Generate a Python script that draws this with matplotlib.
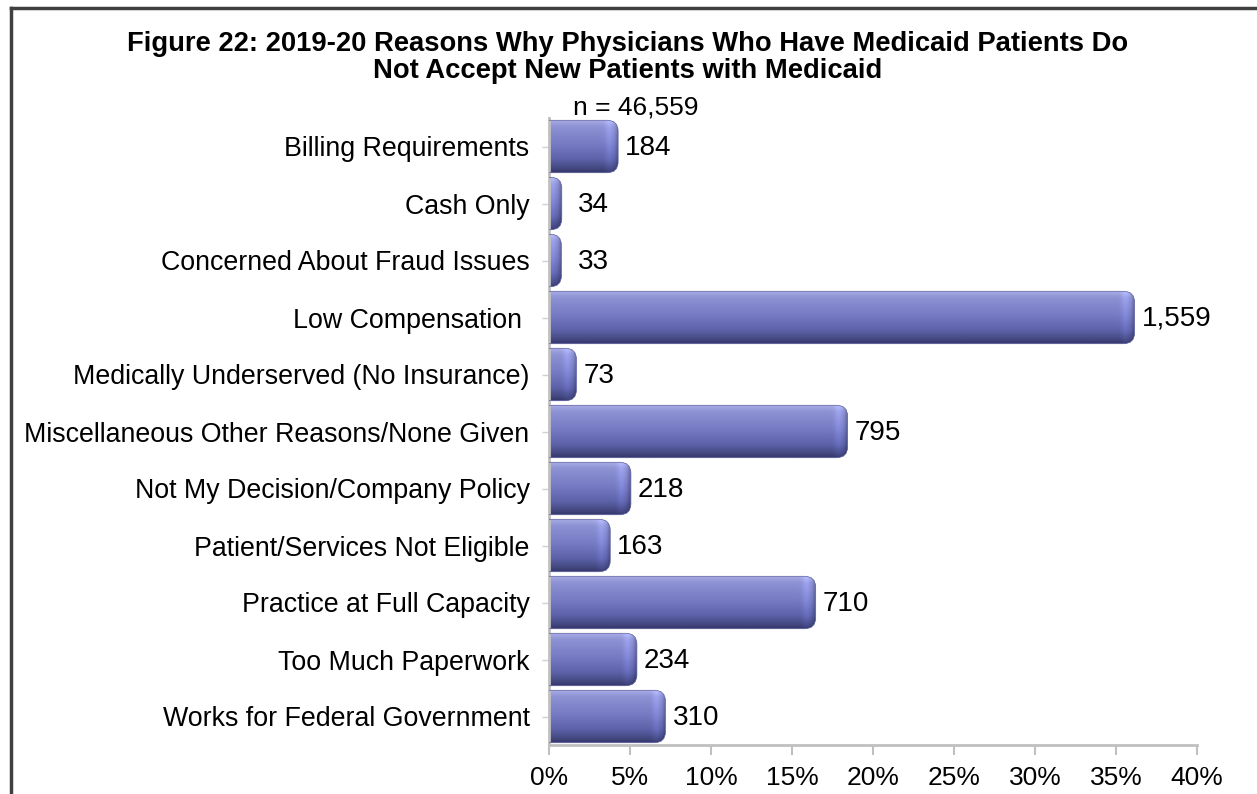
import numpy as np
import matplotlib
matplotlib.use("Agg")
import matplotlib.pyplot as plt
from matplotlib.patches import FancyBboxPatch
from matplotlib.colors import to_rgb
from matplotlib.lines import Line2D
from matplotlib.ticker import PercentFormatter

plt.rcParams['font.family'] = ['Liberation Sans', 'DejaVu Sans']

# data
reasons = [
    "Billing Requirements",
    "Cash Only",
    "Concerned About Fraud Issues",
    "Low Compensation ",
    "Medically Underserved (No Insurance)",
    "Miscellaneous Other Reasons/None Given",
    "Not My Decision/Company Policy",
    "Patient/Services Not Eligible",
    "Practice at Full Capacity",
    "Too Much Paperwork",
    "Works for Federal Government",
]
counts = [184, 34, 33, 1559, 73, 795, 218, 163, 710, 234, 310]
x_ticks = [0, 0.05, 0.10, 0.15, 0.20, 0.25, 0.30, 0.35, 0.40]
title = ("Figure 22: 2019-20 Reasons Why Physicians Who Have Medicaid Patients Do\n"
         "Not Accept New Patients with Medicaid")
subtitle = "n = 46,559"

shares = np.array(counts) / sum(counts)

W, H = 1257, 794
fig = plt.figure(figsize=(W / 100, H / 100), dpi=100)
ax = fig.add_axes([549 / W, 1 - 745 / H, (1197 - 549) / W, (745 - 118) / H])

xmin, xmax = 0, 0.40
ymin, ymax = len(reasons) - 0.5, -0.5

# pixel -> data conversions for rounding / shading the bar ends
ax_w_px = 1197 - 549
ax_h_px = 745 - 118
x_per_px = (xmax - xmin) / ax_w_px
y_per_px = len(reasons) / ax_h_px
r_px = 11
bar_h = 0.92


def bar_image(length_px, height_px=52):
    # vertical gradient: light top, mid blue, dark bottom
    stops = [(0.0, "#a6aae4"), (0.12, "#8d92d4"), (0.45, "#767bc3"),
             (0.75, "#5c61a8"), (0.92, "#43477f"), (1.0, "#34376a")]
    t = np.linspace(0, 1, height_px)
    pos = [p for p, _ in stops]
    cols = np.array([to_rgb(c) for _, c in stops])
    vert = np.stack([np.interp(t, pos, cols[:, k]) for k in range(3)], axis=1)
    # horizontal shading near the rounded end: highlight then darker rim
    n = max(int(length_px), 2)
    d = n - 1 - np.arange(n)  # pixels from the right end
    fac = 1 + 0.12 * np.exp(-((d - 9) / 4.0) ** 2) - 0.22 * np.exp(-(d / 2.5) ** 2)
    img = vert[:, None, :] * fac[None, :, None]
    return np.clip(img, 0, 1)


for i, (s, c) in enumerate(zip(shares, counts)):
    x0 = -r_px * x_per_px
    y0 = i - bar_h / 2
    patch = FancyBboxPatch((x0, y0), s - x0, bar_h,
                           boxstyle=f"round,pad=0,rounding_size={r_px * x_per_px}",
                           mutation_aspect=y_per_px / x_per_px,
                           facecolor="none", edgecolor="#5a5e9e", linewidth=0.5,
                           zorder=3)
    ax.add_patch(patch)
    im = ax.imshow(bar_image((s - x0) / x_per_px),
                   extent=[x0, s, i + bar_h / 2, i - bar_h / 2],
                   origin="upper", aspect="auto", interpolation="bilinear",
                   zorder=2)
    im.set_clip_path(patch)
    lx = max(s + 7 * x_per_px, 29 * x_per_px)
    ax.text(lx, i + 0.02, f"{c:,}", va="center", ha="left",
            fontsize=20, color="black", zorder=4)

ax.set_xlim(xmin, xmax)
ax.set_ylim(ymin, ymax)

ax.set_yticks(range(len(reasons)))
ax.set_yticklabels(reasons, fontsize=19.3)
ax.set_xticks(x_ticks)
ax.xaxis.set_major_formatter(PercentFormatter(1.0, decimals=0))
ax.tick_params(axis="x", labelsize=19, length=7, width=1.5, color="#c0c0c0", pad=8)
ax.tick_params(axis="y", length=5, width=1, color="#d0d0d0", pad=9)

for side in ["top", "right"]:
    ax.spines[side].set_visible(False)
for side in ["left", "bottom"]:
    ax.spines[side].set_color("#c0c0c0")
    ax.spines[side].set_linewidth(2)
ax.set_facecolor("none")

fig.text(0.4996, 1 - 31 / H, title, ha="center", va="top", fontsize=19.7,
         fontweight="bold", linespacing=1.05)
fig.text(0.506, 1 - 115 / H, subtitle, ha="center", va="baseline", fontsize=19)

# outer frame (top and left edges visible in the reference)
fig.add_artist(Line2D([11 / W, 11 / W], [0, 1 - 8 / H], transform=fig.transFigure,
                      color="#404040", linewidth=2.5))
fig.add_artist(Line2D([11 / W, 1], [1 - 8 / H, 1 - 8 / H], transform=fig.transFigure,
                      color="#404040", linewidth=2.5))

fig.savefig("out.png", dpi=100)
